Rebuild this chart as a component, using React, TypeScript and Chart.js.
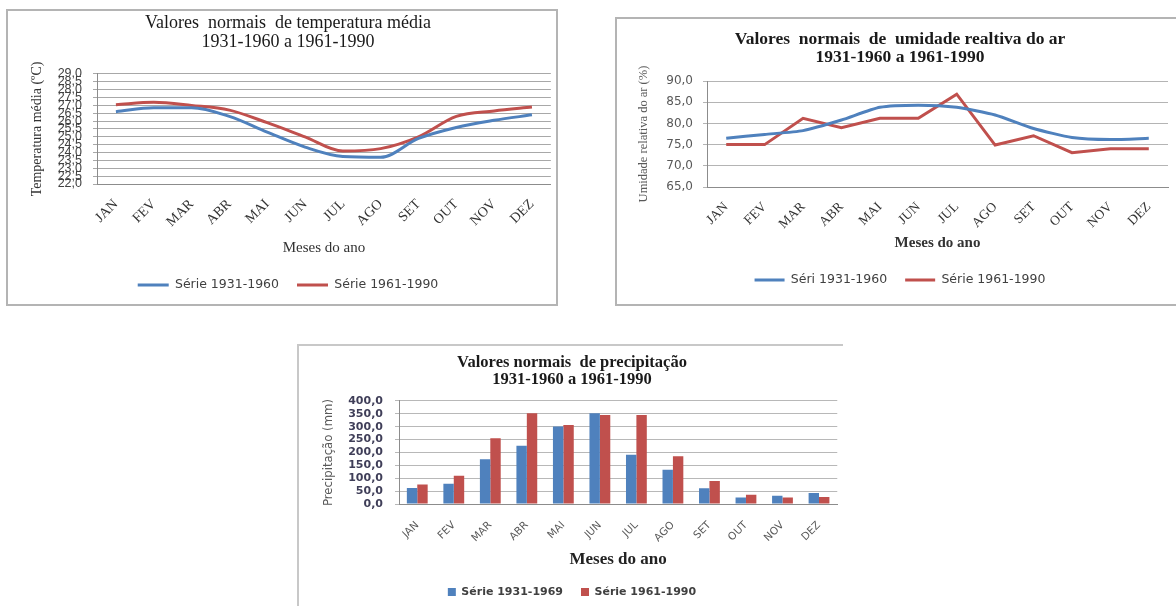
import React, { useEffect, useRef } from 'react';
import { Chart, registerables } from 'chart.js';
Chart.register(...registerables);

// ---------- data ----------
const months = ['JAN', 'FEV', 'MAR', 'ABR', 'MAI', 'JUN', 'JUL', 'AGO', 'SET', 'OUT', 'NOV', 'DEZ'];

const temp1931 = [26.6, 26.85, 26.85, 26.3, 25.3, 24.35, 23.75, 23.7, 24.9, 25.6, 26.05, 26.4];
const temp1961 = [27.05, 27.2, 27.0, 26.7, 25.9, 25.0, 24.1, 24.25, 25.0, 26.3, 26.65, 26.9];

const hum1931 = [76.5, 77.4, 78.3, 80.8, 83.8, 84.3, 83.8, 82.0, 78.8, 76.7, 76.2, 76.5];
const hum1961 = [75.0, 75.0, 81.2, 79.0, 81.2, 81.2, 86.9, 74.9, 77.1, 73.1, 74.0, 74.0];

const prec1931 = [62, 79, 174, 226, 301, 352, 191, 133, 61, 25, 32, 43];
const prec1961 = [76, 110, 255, 352, 307, 346, 346, 185, 89, 36, 25, 27];

const tempTitle = ['Valores  normais  de temperatura média', '1931-1960 a 1961-1990'];
const humTitle = ['Valores  normais  de  umidade realtiva do ar', '1931-1960 a 1961-1990'];
const precTitle = ['Valores normais  de precipitação', '1931-1960 a 1961-1990'];

const tempLabels = ['Série 1931-1960', 'Série 1961-1990'];
const humLabels = ['Séri 1931-1960', 'Série 1961-1990'];
const precLabels = ['Série 1931-1969', 'Série 1961-1990'];

const xTitle = 'Meses do ano';
const tempYTitle = 'Temperatura média (ºC)';
const humYTitle = 'Umidade relativa do ar (%)';
const precYTitle = 'Precipitação (mm)';

// ---------- styles ----------
const BLUE = '#4F81BD';
const RED = '#C0504D';
const SERIF = "'Liberation Serif', 'DejaVu Serif', serif";
const SANS = "'DejaVu Sans', 'Liberation Sans', sans-serif";

const fmt = (v: any) => Number(v).toFixed(1).replace('.', ',');
const lineLegendLabels = (chart: any) =>
  (Chart.defaults.plugins.legend.labels as any)
    .generateLabels(chart)
    .map((l: any) => ({ ...l, lineWidth: 0, fillStyle: l.strokeStyle }));

function useChart(ref: React.RefObject<HTMLCanvasElement>, cfg: () => any) {
  useEffect(() => {
    if (!ref.current) return;
    const c = new Chart(ref.current, cfg());
    return () => c.destroy();
  }, []);
}

function TempChart() {
  const ref = useRef<HTMLCanvasElement>(null);
  useChart(ref, () => ({
    type: 'line',
    data: {
      labels: months,
      datasets: [
        { label: tempLabels[0], data: temp1931, borderColor: BLUE, backgroundColor: BLUE, borderWidth: 3, pointRadius: 0, cubicInterpolationMode: 'monotone' },
        { label: tempLabels[1], data: temp1961, borderColor: RED, backgroundColor: RED, borderWidth: 3, pointRadius: 0, cubicInterpolationMode: 'monotone' },
      ],
    },
    options: {
      responsive: false,
      animation: false,
      devicePixelRatio: 1,
      layout: { padding: { top: 0, left: 16, right: 4, bottom: 2.75 } },
      plugins: {
        tooltip: { enabled: false },
        title: { display: true, text: tempTitle, color: '#1a1a1a', font: { family: SERIF, size: 18, weight: 'normal', lineHeight: 1.055 }, padding: { top: 2.5, bottom: 22.5 } },
        legend: {
          position: 'bottom',
          labels: { boxWidth: 31, boxHeight: 3, padding: 18, color: '#404040', font: { family: SANS, size: 12.5 }, generateLabels: lineLegendLabels },
        },
      },
      scales: {
        x: {
          offset: true,
          grid: { display: false, drawTicks: false },
          border: { display: true, color: '#8c8c8c' },
          ticks: { minRotation: 45, maxRotation: 45, autoSkip: false, padding: 12, color: '#333', font: { family: SERIF, size: 14 } },
          title: { display: true, text: xTitle, color: '#333', font: { family: SERIF, size: 15 }, padding: { top: 0, bottom: 3.75 } },
          afterFit: (s: any) => { s.height = 76.75; },
        },
        y: {
          min: 22, max: 29,
          ticks: { stepSize: 0.5, autoSkip: false, padding: 11, callback: fmt, color: '#404040', font: { family: "'Liberation Sans', sans-serif", size: 12.5 } },
          grid: { color: '#a8a8a8', tickLength: 4 },
          border: { display: true, color: '#8c8c8c' },
          title: { display: true, text: tempYTitle, color: '#333', font: { family: SERIF, size: 14 }, padding: { top: 5.1, bottom: 0 } },
          afterFit: (s: any) => { s.width = 73; },
        },
      },
    },
  }));
  return <canvas ref={ref} width={548} height={293} style={{ display: 'block', width: 548, height: 293 }} />;
}

function HumChart() {
  const ref = useRef<HTMLCanvasElement>(null);
  useChart(ref, () => ({
    type: 'line',
    data: {
      labels: months,
      datasets: [
        { label: humLabels[0], data: hum1931, borderColor: BLUE, backgroundColor: BLUE, borderWidth: 3, pointRadius: 0, tension: 0.2 },
        { label: humLabels[1], data: hum1961, borderColor: RED, backgroundColor: RED, borderWidth: 3, pointRadius: 0, tension: 0 },
      ],
    },
    options: {
      responsive: false,
      animation: false,
      devicePixelRatio: 1,
      layout: { padding: { top: 0, left: 15, right: 15, bottom: 7.75 } },
      plugins: {
        tooltip: { enabled: false },
        title: { display: true, text: humTitle, color: '#1a1a1a', font: { family: SERIF, size: 17.5, weight: 'bold', lineHeight: 1.03 }, padding: { top: 11, bottom: 15 } },
        legend: {
          position: 'bottom',
          labels: { boxWidth: 30, boxHeight: 3, padding: 18, color: '#404040', font: { family: SANS, size: 12.5 }, generateLabels: lineLegendLabels },
        },
      },
      scales: {
        x: {
          offset: true,
          grid: { display: false, drawTicks: false },
          border: { display: true, color: '#8c8c8c' },
          ticks: { minRotation: 45, maxRotation: 45, autoSkip: false, padding: 12, color: '#333', font: { family: SERIF, size: 13.5 } },
          title: { display: true, text: xTitle, color: '#333', font: { family: SERIF, size: 15, weight: 'bold' }, padding: { top: 0, bottom: 3.75 } },
          afterFit: (s: any) => { s.height = 68.75; },
        },
        y: {
          min: 65, max: 90,
          ticks: { stepSize: 5, autoSkip: false, padding: 10, callback: fmt, color: '#595959', font: { family: SANS, size: 12 } },
          grid: { color: '#b4b4b4', tickLength: 4 },
          border: { display: true, color: '#8c8c8c' },
          title: { display: true, text: humYTitle, color: '#595959', font: { family: SERIF, size: 12.5 }, padding: { top: 4.5, bottom: 0 } },
          afterFit: (s: any) => { s.width = 75; },
        },
      },
    },
  }));
  return <canvas ref={ref} width={566} height={285} style={{ display: 'block', width: 566, height: 285 }} />;
}

function PrecChart() {
  const ref = useRef<HTMLCanvasElement>(null);
  useChart(ref, () => ({
    type: 'bar',
    data: {
      labels: months,
      datasets: [
        { label: precLabels[0], data: prec1931, backgroundColor: BLUE, borderWidth: 0, barPercentage: 1, categoryPercentage: 0.57 },
        { label: precLabels[1], data: prec1961, backgroundColor: RED, borderWidth: 0, barPercentage: 1, categoryPercentage: 0.57 },
      ],
    },
    options: {
      responsive: false,
      animation: false,
      devicePixelRatio: 1,
      layout: { padding: { top: 0, left: 4, right: 2, bottom: 0.5 } },
      plugins: {
        tooltip: { enabled: false },
        title: { display: true, text: precTitle, color: '#1a1a1a', font: { family: SERIF, size: 16.5, weight: 'bold', lineHeight: 1.03 }, padding: { top: 8.5, bottom: 12.5 } },
        legend: {
          position: 'bottom',
          labels: { boxWidth: 8, boxHeight: 8, padding: 18, color: '#404040', font: { family: SANS, size: 11, weight: 'bold' } },
        },
      },
      scales: {
        x: {
          grid: { display: false, drawTicks: false },
          border: { display: true, color: '#8c8c8c' },
          ticks: { minRotation: 45, maxRotation: 45, autoSkip: false, padding: 15, color: '#595959', font: { family: SANS, size: 10.5 } },
          title: { display: true, text: xTitle, color: '#222', font: { family: SERIF, size: 17, weight: 'bold', lineHeight: 1 }, padding: { top: 0, bottom: 0 } },
          afterFit: (s: any) => { s.height = 64.5; },
        },
        y: {
          min: 0, max: 400,
          ticks: { stepSize: 50, autoSkip: false, padding: 12, callback: fmt, color: '#3f3e58', font: { family: SANS, size: 11, weight: 'bold' } },
          grid: { color: '#b8b8b8', tickLength: 4 },
          border: { display: true, color: '#8c8c8c' },
          title: { display: true, text: precYTitle, color: '#595959', font: { family: "'Liberation Sans Narrow', 'DejaVu Sans Condensed', sans-serif", size: 13 }, padding: { top: 18, bottom: 0 } },
          afterFit: (s: any) => { s.width = 96; },
        },
      },
    },
  }));
  return <canvas ref={ref} width={544} height={262} style={{ display: 'block', width: 544, height: 262 }} />;
}

export default function App() {
  return (
    <div style={{ position: 'fixed', left: 0, top: 0, width: 1176, height: 606, overflow: 'hidden', background: '#fff' }}>
      <div style={{ position: 'absolute', left: 6, top: 9, border: '2px solid #b4b4b4' }}>
        <TempChart />
      </div>
      <div style={{ position: 'absolute', left: 615, top: 17, border: '2px solid #b4b4b4' }}>
        <HumChart />
      </div>
      <div style={{ position: 'absolute', left: 297, top: 344, borderLeft: '2px solid #c8c8c8', borderTop: '2px solid #c8c8c8' }}>
        <PrecChart />
      </div>
    </div>
  );
}
